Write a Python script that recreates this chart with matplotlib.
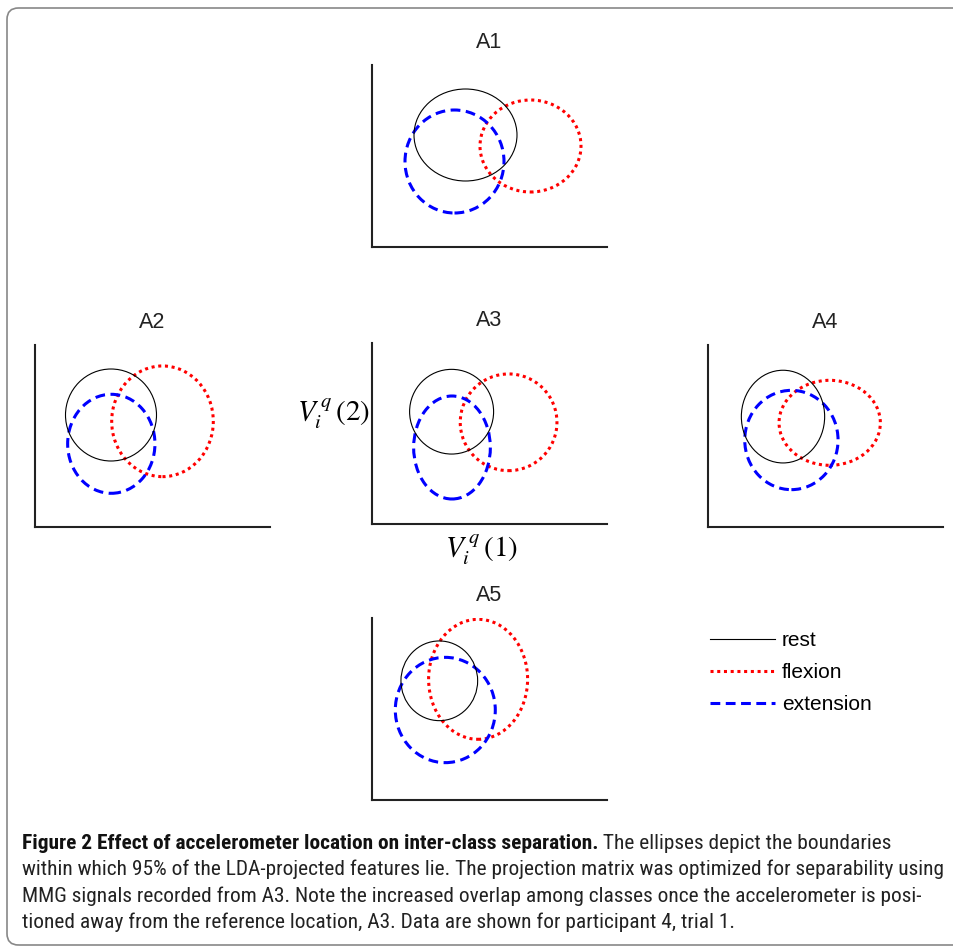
import matplotlib.pyplot as plt
from matplotlib.patches import Ellipse, FancyBboxPatch
from matplotlib.lines import Line2D
from matplotlib import font_manager

plt.rcParams['mathtext.fontset'] = 'stix'

# --- data (ellipse centre / size, axis units) ---
panels = ['A1', 'A2', 'A3', 'A4', 'A5']
classes = ['rest', 'flexion', 'extension']

rest_cx = [93.5, 76.0, 79.6, 75.0, 67.3]
rest_cy = [112.0, 112.0, 112.3, 110.4, 119.2]
rest_w = [103.0, 91.0, 84.0, 83.3, 76.7]
rest_h = [92.0, 92.0, 84.7, 92.7, 79.7]

flex_cx = [158.5, 127.5, 136.6, 121.7, 106.1]
flex_cy = [101.0, 105.7, 101.7, 104.2, 120.7]
flex_w = [101.0, 101.6, 96.7, 101.3, 99.0]
flex_h = [92.0, 110.7, 96.7, 85.0, 120.0]

ext_cx = [82.5, 76.3, 80.0, 83.4, 73.3]
ext_cy = [85.5, 83.2, 76.5, 87.0, 90.0]
ext_w = [99.0, 87.3, 76.7, 93.3, 100.0]
ext_h = [103.0, 99.0, 103.0, 99.3, 105.3]

caption_bold = 'Figure 2 Effect of accelerometer location on inter-class separation.'
caption_lines = [
    ' The ellipses depict the boundaries',
    'within which 95% of the LDA-projected features lie. The projection matrix was optimized for separability using',
    'MMG signals recorded from A3. Note the increased overlap among classes once the accelerometer is posi-',
    'tioned away from the reference location, A3. Data are shown for participant 4, trial 1.',
]

# --- styles ---
styles = {
    'rest': dict(color='black', lw=0.8, ls='-'),
    'flexion': dict(color='#ff0000', lw=2.2, ls=(0, (1, 1.2))),
    'extension': dict(color='#0000ff', lw=2.2, ls=(0, (3.2, 1.8))),
}
ell_data = {
    'rest': (rest_cx, rest_cy, rest_w, rest_h),
    'flexion': (flex_cx, flex_cy, flex_w, flex_h),
    'extension': (ext_cx, ext_cy, ext_w, ext_h),
}

W, H = 954, 946
fig = plt.figure(figsize=(W / 100, H / 100), dpi=100)

def fx(px):
    return px / W

def fy(py):
    return 1 - py / H

# panel boxes in pixels: left, top, right, bottom
boxes = [(372, 65, 607, 247), (35, 345, 270, 527), (372, 343, 607, 524),
         (708, 345, 943, 527), (372, 618, 607, 800)]

sans = ['Liberation Sans', 'DejaVu Sans']
for name, (l, t, r, b) in zip(panels, boxes):
    ax = fig.add_axes([fx(l), fy(b), (r - l) / W, (b - t) / H])
    ax.set_xlim(0, r - l)
    ax.set_ylim(0, b - t)
    for s in ['top', 'right']:
        ax.spines[s].set_visible(False)
    for s in ['left', 'bottom']:
        ax.spines[s].set_linewidth(1.5)
        ax.spines[s].set_color('#222222')
    ax.set_xticks([])
    ax.set_yticks([])
    i = panels.index(name)
    for c in classes:
        cx, cy, ew, eh = ell_data[c]
        st = styles[c]
        ax.add_patch(Ellipse((cx[i], cy[i]), ew[i], eh[i], fill=False,
                             edgecolor=st['color'], linewidth=st['lw'],
                             linestyle=st['ls'], zorder=3 if c == 'rest' else 2))
    ax.text(0.5, 1 + 23 / (b - t), name, transform=ax.transAxes, ha='center',
            va='center', fontsize=15.5, family=sans, color='#222222')

# axis labels on A3
fig.text(fx(333), fy(414), r'$V_i^{\,q}\,(2)$', ha='center', va='center', fontsize=21)
fig.text(fx(481), fy(550), r'$V_i^{\,q}\,(1)$', ha='center', va='center', fontsize=21)

# legend
handles = [Line2D([], [], color=styles[c]['color'], lw=styles[c]['lw'],
                  ls=styles[c]['ls']) for c in classes]
fig.legend(handles, classes, loc='upper left', bbox_to_anchor=(fx(710), fy(631)),
           frameon=False, borderpad=0, borderaxespad=0, handlelength=3.1,
           handletextpad=0.35, labelspacing=0.62,
           prop=dict(family=sans, size=15))

# frame around the figure
frame = FancyBboxPatch((fx(7), fy(945)), 1.2, fy(8) - fy(945),
                       boxstyle='round,pad=0,rounding_size=0.012',
                       transform=fig.transFigure, fill=False,
                       edgecolor='#888888', linewidth=1.2, clip_on=False)
fig.patches.append(frame)

# caption: pick a narrow font if one exists, then fit the size to the line width
names = {f.name for f in font_manager.fontManager.ttflist}
cap_font = sans
for cand in ['Liberation Sans Narrow', 'Roboto Condensed', 'Open Sans Condensed',
             'Liberation Sans']:
    if cand in names:
        cap_font = [cand, 'DejaVu Sans']
        break
renderer = fig.canvas.get_renderer()
probe = fig.text(0, 0, caption_lines[1], fontsize=14, family=cap_font)
pw = probe.get_window_extent(renderer).width
probe.remove()
cap_size = 14 * 924 / pw

ys = [843, 869, 896, 922]
t0 = fig.text(fx(22), fy(ys[0]), caption_bold, ha='left', va='center',
              fontsize=cap_size, family=cap_font, weight='bold', color='#111111')
bb = t0.get_window_extent(renderer)
fig.text(bb.x1 / W, fy(ys[0]), caption_lines[0], ha='left', va='center',
         fontsize=cap_size, family=cap_font, color='#222222')
for line, y in zip(caption_lines[1:], ys[1:]):
    fig.text(fx(22), fy(y), line, ha='left', va='center', fontsize=cap_size,
             family=cap_font, color='#222222')

fig.savefig('out.png', dpi=100)
